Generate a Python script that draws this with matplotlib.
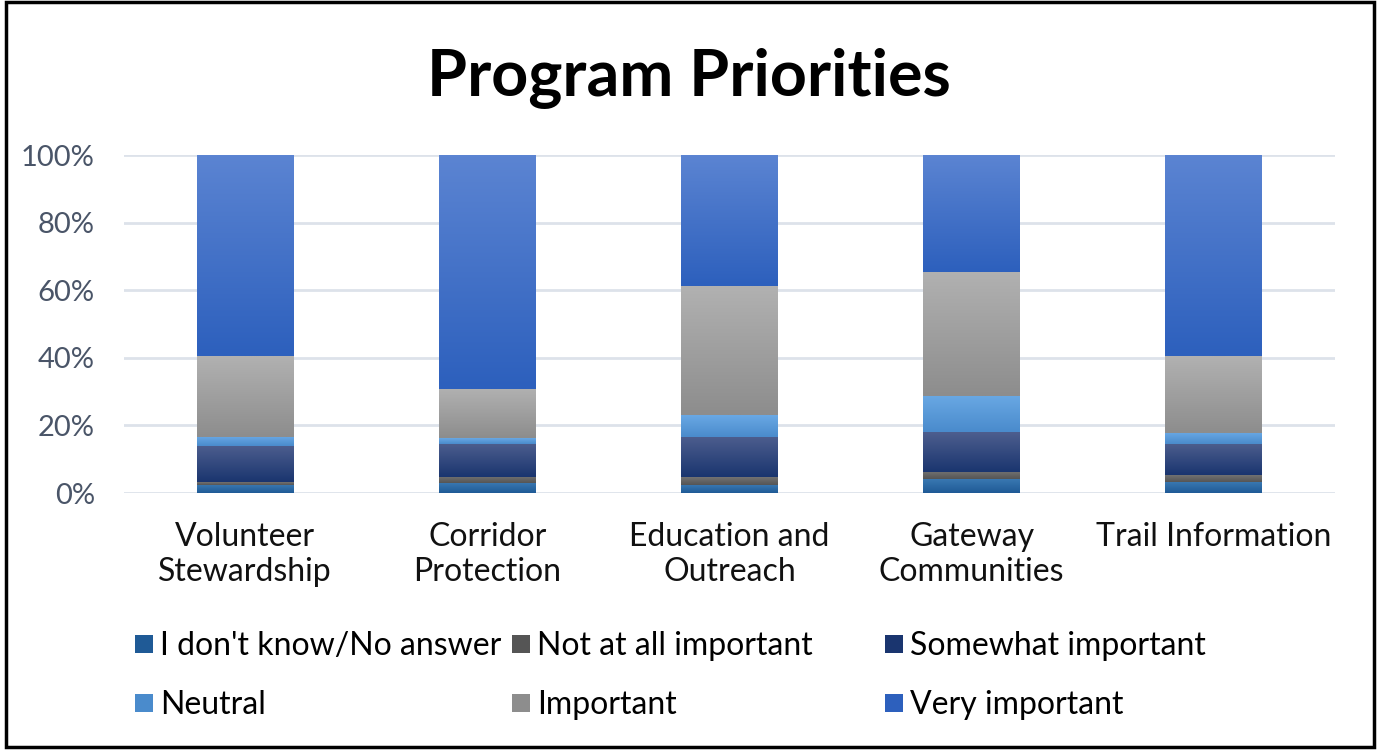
"""Stacked percentage bars of survey responses on program priorities."""

import matplotlib as mpl
import matplotlib.pyplot as plt
import numpy as np
from matplotlib.patches import Rectangle

CATEGORIES = [
    "Volunteer\nStewardship",
    "Corridor\nProtection",
    "Education and\nOutreach",
    "Gateway\nCommunities",
    "Trail Information",
]
RESPONSES = [
    "I don't know/No answer",
    "Not at all important",
    "Somewhat important",
    "Neutral",
    "Important",
    "Very important",
]
# share of respondents, percent, stacked bottom to top
DONT_KNOW = [2.5, 3.0, 2.5, 4.2, 3.3]
NOT_AT_ALL = [0.8, 1.8, 2.3, 2.1, 2.0]
SOMEWHAT = [10.7, 9.8, 11.9, 11.8, 9.2]
NEUTRAL = [2.7, 1.7, 6.5, 10.7, 3.3]
IMPORTANT = [23.7, 14.6, 38.1, 36.7, 22.7]
VERY = [59.6, 69.1, 38.7, 34.5, 59.5]
SERIES = [DONT_KNOW, NOT_AT_ALL, SOMEWHAT, NEUTRAL, IMPORTANT, VERY]

# (top, bottom) colours of the vertical gradient in each segment
GRADIENTS = [
    ("#3b7ab3", "#1f5a96"),
    ("#727272", "#555555"),
    ("#4d5e8e", "#1a356f"),
    ("#69a8e4", "#4a8bcc"),
    ("#b1b1b1", "#8d8d8d"),
    ("#5b84d2", "#2d60bd"),
]

mpl.rcParams.update({"font.family": ["Lato", "DejaVu Sans"]})

W, H = 1377, 750
fig = plt.figure(figsize=(W / 100, H / 100), dpi=100)
ax = fig.add_axes([124 / W, 1 - 493 / H, (1335 - 124) / W, (493 - 155) / H])


def gradient_image(top, bottom):
    c0 = np.array(mpl.colors.to_rgb(top))
    c1 = np.array(mpl.colors.to_rgb(bottom))
    t = np.linspace(0, 1, 64)[:, None]
    return (c0 + (c1 - c0) * t)[:, None, :]


x = np.arange(len(CATEGORIES))
base = np.zeros(len(CATEGORIES))
for values, (top, bottom) in zip(SERIES, GRADIENTS):
    vals = np.asarray(values) / 100
    bars = ax.bar(x, vals, width=0.4, bottom=base, color=bottom, linewidth=0, zorder=2)
    for patch in bars:
        x0, y0 = patch.get_x(), patch.get_y()
        img = ax.imshow(
            gradient_image(top, bottom),
            extent=(x0, x0 + patch.get_width(), y0, y0 + patch.get_height()),
            origin="upper",
            aspect="auto",
            interpolation="bilinear",
            zorder=3,
        )
        img.set_clip_path(patch)
    base += vals

ax.set_xlim(-0.5, len(CATEGORIES) - 0.5)
ax.set_ylim(0, 1)
ax.set_yticks(np.arange(0, 1.01, 0.2))
ax.set_yticklabels([f"{int(round(v * 100))}%" for v in np.arange(0, 1.01, 0.2)])
ax.set_xticks(x)
ax.set_xticklabels(CATEGORIES, fontsize=23, color="#111111", linespacing=1.22)
ax.tick_params(axis="x", length=0, pad=21)
ax.tick_params(axis="y", length=0, pad=21, labelsize=21, labelcolor="#4a5568")
ax.grid(axis="y", color="#dde2ea", linewidth=2, zorder=0)
for side in ("top", "right", "left", "bottom"):
    ax.spines[side].set_visible(False)

fig.text(0.5, 1 - 96 / H, "Program Priorities", ha="center", va="baseline",
         fontsize=46.5, fontweight="bold", color="black")

# legend drawn in pixel coordinates on an overlay
ov = fig.add_axes([0, 0, 1, 1], zorder=5)
ov.set_xlim(0, W)
ov.set_ylim(H, 0)
ov.axis("off")
col_x = [135, 512, 885]
row_y = [644, 703]
for i, (name, (top, bottom)) in enumerate(zip(RESPONSES, GRADIENTS)):
    cx, cy = col_x[i % 3], row_y[i // 3]
    sq = Rectangle((cx, cy - 9), 18, 18, facecolor=bottom, linewidth=0)
    ov.add_patch(sq)
    im = ov.imshow(gradient_image(top, bottom), extent=(cx, cx + 18, cy + 9, cy - 9),
                   aspect="auto", interpolation="bilinear")
    im.set_clip_path(sq)
    ov.text(cx + 25, cy + 11, name, ha="left", va="baseline", fontsize=23, color="black")

ov.add_patch(Rectangle((6, 2), W - 9, H - 5, fill=False, edgecolor="black", linewidth=2.5))
ov.set_xlim(0, W)
ov.set_ylim(H, 0)

fig.savefig("out.png", dpi=100)
